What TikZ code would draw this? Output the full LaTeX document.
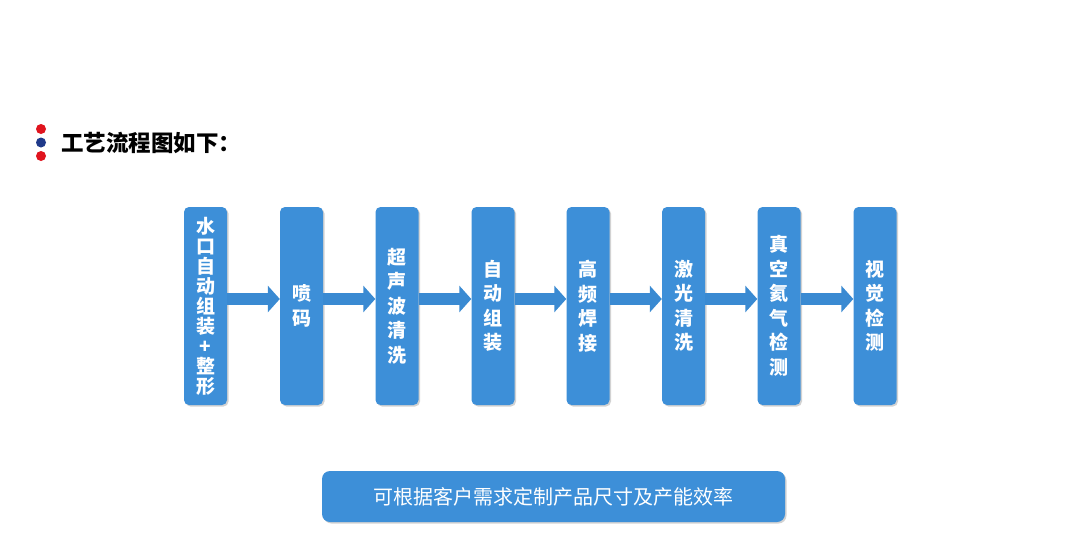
\documentclass[tikz,border=0pt]{standalone}
\usepackage{fontspec}
\newfontfamily\cjk{Noto Sans CJK SC}
\usetikzlibrary{arrows.meta,shadows,calc}
\definecolor{boxblue}{HTML}{3D8FD8}
\definecolor{arrblue}{HTML}{3A8AD2}
\definecolor{dotred}{HTML}{E0141E}
\definecolor{dotnavy}{HTML}{1F3A8A}
\begin{document}
\begin{tikzpicture}[x=1pt,y=-1pt,
  stepbox/.style={fill=boxblue, rounded corners=5pt, minimum width=43pt, minimum height=198pt,
    inner sep=0pt, text=white, align=center, font=\cjk\bfseries\fontsize{19}{24.5}\selectfont,
    drop shadow={shadow xshift=1.5pt, shadow yshift=-1.5pt, fill=black!35, opacity=0.5}},
  flowarrow/.style={draw=arrblue, line width=12pt, -{Triangle[width=26pt,length=12pt]}}]
\useasboundingbox (0,0) rectangle (1075,535);
\fill[white] (0,0) rectangle (1075,535);
% title
\fill[dotred] (41,129) circle (5pt);
\fill[dotnavy] (41,142.5) circle (5pt);
\fill[dotred] (41,156) circle (5pt);
\node[anchor=west, inner sep=0pt, font=\cjk\bfseries\fontsize{22.5}{22.5}\selectfont] (title) at (61,143) {工艺流程图如下：};
% boxes
\node[stepbox, font=\cjk\bfseries\fontsize{19}{20}\selectfont] (b1) at (205.5,306) {水\\口\\自\\动\\组\\装\\+\\整\\形};
\node[stepbox] (b2) at (301.5,306) {喷\\码};
\node[stepbox] (b3) at (397,306) {超\\声\\波\\清\\洗};
\node[stepbox] (b4) at (493,306) {自\\动\\组\\装};
\node[stepbox] (b5) at (588,306) {高\\频\\焊\\接};
\node[stepbox] (b6) at (683.5,306) {激\\光\\清\\洗};
\node[stepbox] (b7) at (779,306) {真\\空\\氦\\气\\检\\测};
\node[stepbox] (b8) at (875,306) {视\\觉\\检\\测};
% arrows
\foreach \a/\b in {b1/b2,b2/b3,b3/b4,b4/b5,b5/b6,b6/b7,b7/b8}
  \draw[flowarrow] ([yshift=7pt]\a.east) -- ([yshift=7pt]\b.west);
% bottom bar
\node[fill=boxblue, rounded corners=8pt, minimum width=463pt, minimum height=51pt, inner sep=0pt,
  text=white, font=\cjk\fontsize{20}{20}\selectfont,
  drop shadow={shadow xshift=1.5pt, shadow yshift=-1.5pt, fill=black!35, opacity=0.5}]
  (note) at (553.5,496.5) {可根据客户需求定制产品尺寸及产能效率};
\end{tikzpicture}
\end{document}
